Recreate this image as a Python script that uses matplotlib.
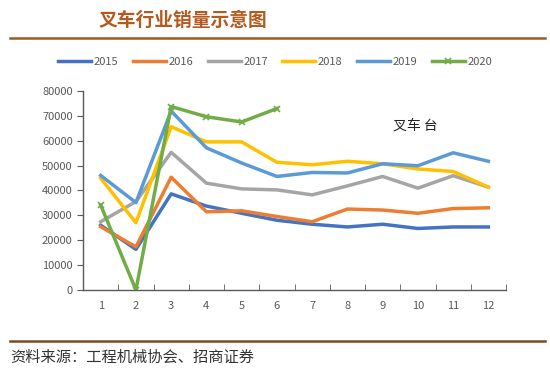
# -*- coding:utf-8 -*-
import matplotlib
matplotlib.use("Agg")
import matplotlib.pyplot as plt
from matplotlib.lines import Line2D

plt.rcParams['font.family'] = ['Noto Sans CJK SC', 'DejaVu Sans']

# 月份
months = [1, 2, 3, 4, 5, 6, 7, 8, 9, 10, 11, 12]
# 各年叉车销量（台）
s2015 = [26000, 16300, 38600, 33700, 30800, 28000, 26400, 25300, 26400, 24700, 25300, 25300]
s2016 = [25400, 17300, 45300, 31400, 31800, 29500, 27400, 32500, 32100, 30800, 32700, 33000]
s2017 = [27400, 35500, 55300, 42900, 40600, 40200, 38200, 41800, 45600, 40900, 45900, 41300]
s2018 = [44900, 27000, 65600, 59500, 59500, 51300, 50300, 51700, 50700, 48600, 47600, 41300]
s2019 = [46000, 35100, 71900, 57100, 51000, 45600, 47200, 47000, 50700, 49900, 55100, 51700]
s2020 = [34100, 0, 73700, 69600, 67500, 72900]
years = ['2015', '2016', '2017', '2018', '2019', '2020']
yticks = [0, 10000, 20000, 30000, 40000, 50000, 60000, 70000, 80000]

colors = ['#4472C4', '#ED7D31', '#A5A5A5', '#FFC000', '#5B9BD5', '#70AD47']

fig = plt.figure(figsize=(5.5, 3.77), dpi=100)
ax = fig.add_axes([0.151, 0.231, 0.769, 0.528])

series = [s2015, s2016, s2017, s2018, s2019]
for i in range(5):
    ax.plot(months, series[i], color=colors[i], lw=2.5, label=years[i],
            solid_joinstyle='round')
ax.plot(months[:len(s2020)], s2020, color=colors[5], lw=2.5, marker='x',
        markersize=5, markeredgewidth=1.2, label=years[5])

ax.set_xlim(0.5, 12.5)
ax.set_ylim(0, 80000)
ax.set_yticks(yticks)
ax.set_yticklabels([str(v) for v in yticks])
ax.set_xticks(months)
ax.set_xticks([m + 0.5 for m in range(0, 13)], minor=True)
ax.tick_params(axis='x', which='major', length=0, pad=8, labelsize=8, labelcolor='#595959')
ax.tick_params(axis='x', which='minor', direction='in', length=4, color='#595959')
ax.tick_params(axis='y', direction='out', length=4, color='#595959',
               labelsize=8, labelcolor='#595959')
for s in ['top', 'right']:
    ax.spines[s].set_visible(False)
for s in ['left', 'bottom']:
    ax.spines[s].set_color('#595959')
    ax.spines[s].set_linewidth(1.0)

fig.text(0.755, 0.668, '叉车 台', fontsize=10, color='#222222',
         ha='center', va='center')

fig.legend(loc='center', bbox_to_anchor=(0.5, 0.836), ncol=6, frameon=False,
           fontsize=8, handlelength=3.0, columnspacing=1.3, handletextpad=0.2,
           labelcolor='#595959')

# 标题与分隔线
fig.text(0.333, 0.945, '叉车行业销量示意图', fontsize=13.5, fontweight='bold',
         color='#B5591F', ha='center', va='center')
fig.add_artist(Line2D([0.018, 0.99], [0.899, 0.899], color='#9C5A24', lw=1.8))
fig.add_artist(Line2D([0.018, 0.99], [0.095, 0.095], color='#7A4A1E', lw=1.8))
fig.text(0.018, 0.053, '资料来源：工程机械协会、招商证券', fontsize=11,
         color='#333333', ha='left', va='center')

fig.savefig('out.png', dpi=100)
